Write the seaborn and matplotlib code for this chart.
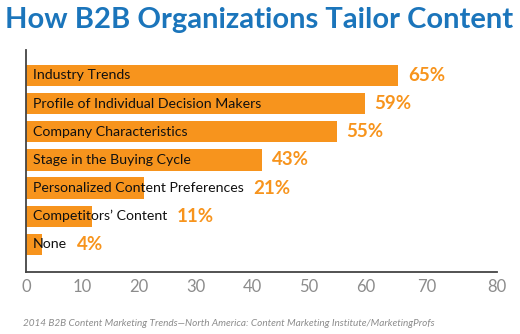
import matplotlib
matplotlib.use("Agg")
import matplotlib.pyplot as plt
import seaborn as sns
import pandas as pd

categories = ["Industry Trends", "Profile of Individual Decision Makers",
              "Company Characteristics", "Stage in the Buying Cycle",
              "Personalized Content Preferences", "Competitors\u2019 Content", "None"]
values = [65.7, 59.8, 54.9, 41.7, 20.9, 11.6, 2.9]
pct_labels = ["65%", "59%", "55%", "43%", "21%", "11%", "4%"]
# the reference axis spaces its last two ticks a little wider
xtick_pos = [0, 10, 20, 30, 40, 50, 60, 70.7, 83.1]
xtick_labels = ["0", "10", "20", "30", "40", "50", "60", "70", "80"]

title = "How B2B Organizations Tailor Content"
source = "2014 B2B Content Marketing Trends\u2014North America: Content Marketing Institute/MarketingProfs"

ORANGE = "#F7941D"
BLUE = "#1B75BB"

sns.set_theme(style="white")
plt.rcParams["font.family"] = ["Lato", "DejaVu Sans"]

df = pd.DataFrame({"cat": categories, "val": values})

fig = plt.figure(figsize=(5.2, 3.34), dpi=100)
ax = fig.add_axes([26/520, 1-272/334, (497-26)/520, (272-50)/334])

sns.barplot(data=df, x="val", y="cat", orient="h", color=ORANGE, saturation=1,
            width=0.76, ax=ax, linewidth=0)

ax.set_xlim(0, 83.15)
ax.set_ylim(6.98, -0.9)
ax.set_xticks(xtick_pos)
ax.set_xticklabels(xtick_labels, color="#8C8C8C", fontsize=12)
ax.set_yticks([])
ax.set_xlabel("")
ax.set_ylabel("")
ax.tick_params(axis="x", direction="in", length=4, width=1.2, color="#444444", pad=5)
for s in ["top", "right"]:
    ax.spines[s].set_visible(False)
for s in ["left", "bottom"]:
    ax.spines[s].set_color("#444444")
    ax.spines[s].set_linewidth(1.3)

for i, (c, v, p) in enumerate(zip(categories, values, pct_labels)):
    t = ax.text(1.2, i, c, va="center", ha="left", fontsize=10.2, color="#111111")
    fig.canvas.draw()
    bb = t.get_window_extent().transformed(ax.transData.inverted())
    x_end = max(v, bb.x1)
    ax.text(x_end + 1.7, i, p, va="center", ha="left", fontsize=13.5,
            fontweight="bold", color=ORANGE)

fig.text(5/520, 1-20/334, title, ha="left", va="center", fontsize=21,
         fontweight="bold", color=BLUE)
fig.text(23/520, 1-323/334, source, ha="left", va="center", fontsize=7.2,
         style="italic", color="#8C8C8C")

fig.savefig("out.png", dpi=100)
